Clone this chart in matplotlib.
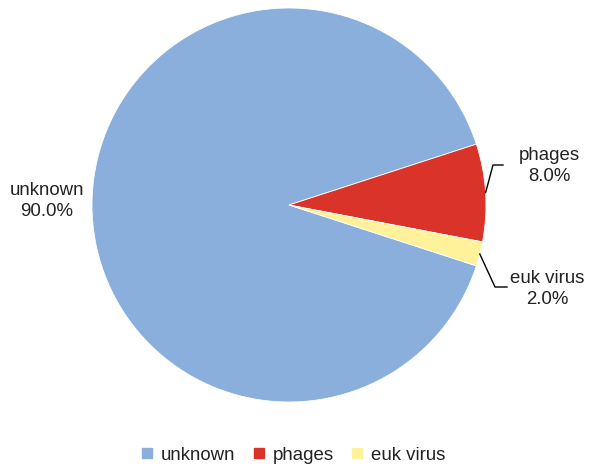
import numpy as np
import matplotlib.pyplot as plt
from matplotlib.lines import Line2D

plt.rcParams['font.family'] = ['Liberation Sans', 'DejaVu Sans']

labels = ['unknown', 'phages', 'euk virus']
values = [90.0, 8.0, 2.0]
colors = ['#8AAFDD', '#D9332A', '#FFF29B']

W, H = 589, 466
fig = plt.figure(figsize=(W / 100, H / 100), dpi=100)

# pie centre / radius in pixels
cx, cy, r = 289, 205, 197
ax = fig.add_axes([(cx - r) / W, (H - cy - r) / H, 2 * r / W, 2 * r / H])

wedges, _ = ax.pie(values, colors=colors, startangle=-18, counterclock=False,
                   wedgeprops=dict(edgecolor='white', linewidth=0.6))
ax.set_xlim(-1, 1)
ax.set_ylim(-1, 1)
ax.axis('off')

fs = 13.4

def px(x, y):
    return ((x - cx) / r, (cy - y) / r)

# label offsets (pixels) for each slice
label_pos = {'unknown': (47, 201), 'phages': (549, 166), 'euk virus': (547, 289)}
elbow = {'phages': [(493, 165), (503, 165)], 'euk virus': [(495, 287), (507, 287)]}

for w, lab, v in zip(wedges, labels, values):
    mid = np.deg2rad((w.theta1 + w.theta2) / 2)
    if lab in elbow:
        pts = [(np.cos(mid), np.sin(mid))] + [px(*p) for p in elbow[lab]]
        xs, ys = zip(*pts)
        ax.plot(xs, ys, color='black', lw=1, clip_on=False)
    lx, ly = px(*label_pos[lab])
    ax.text(lx, ly, f'{lab}\n{v:.1f}%', ha='center', va='center', fontsize=fs,
            color='#222222', linespacing=1.3, clip_on=False)

handles = [Line2D([], [], marker='s', linestyle='none', markersize=7.5,
                  markerfacecolor=c, markeredgecolor=c) for c in colors]
fig.legend(handles, labels, loc='center', bbox_to_anchor=(293 / W, 1 - 455 / H),
           ncol=3, frameon=False, fontsize=fs, handlelength=0.7,
           handletextpad=0.4, columnspacing=0.9, labelcolor='#222222')

fig.savefig('out.png', dpi=100)
